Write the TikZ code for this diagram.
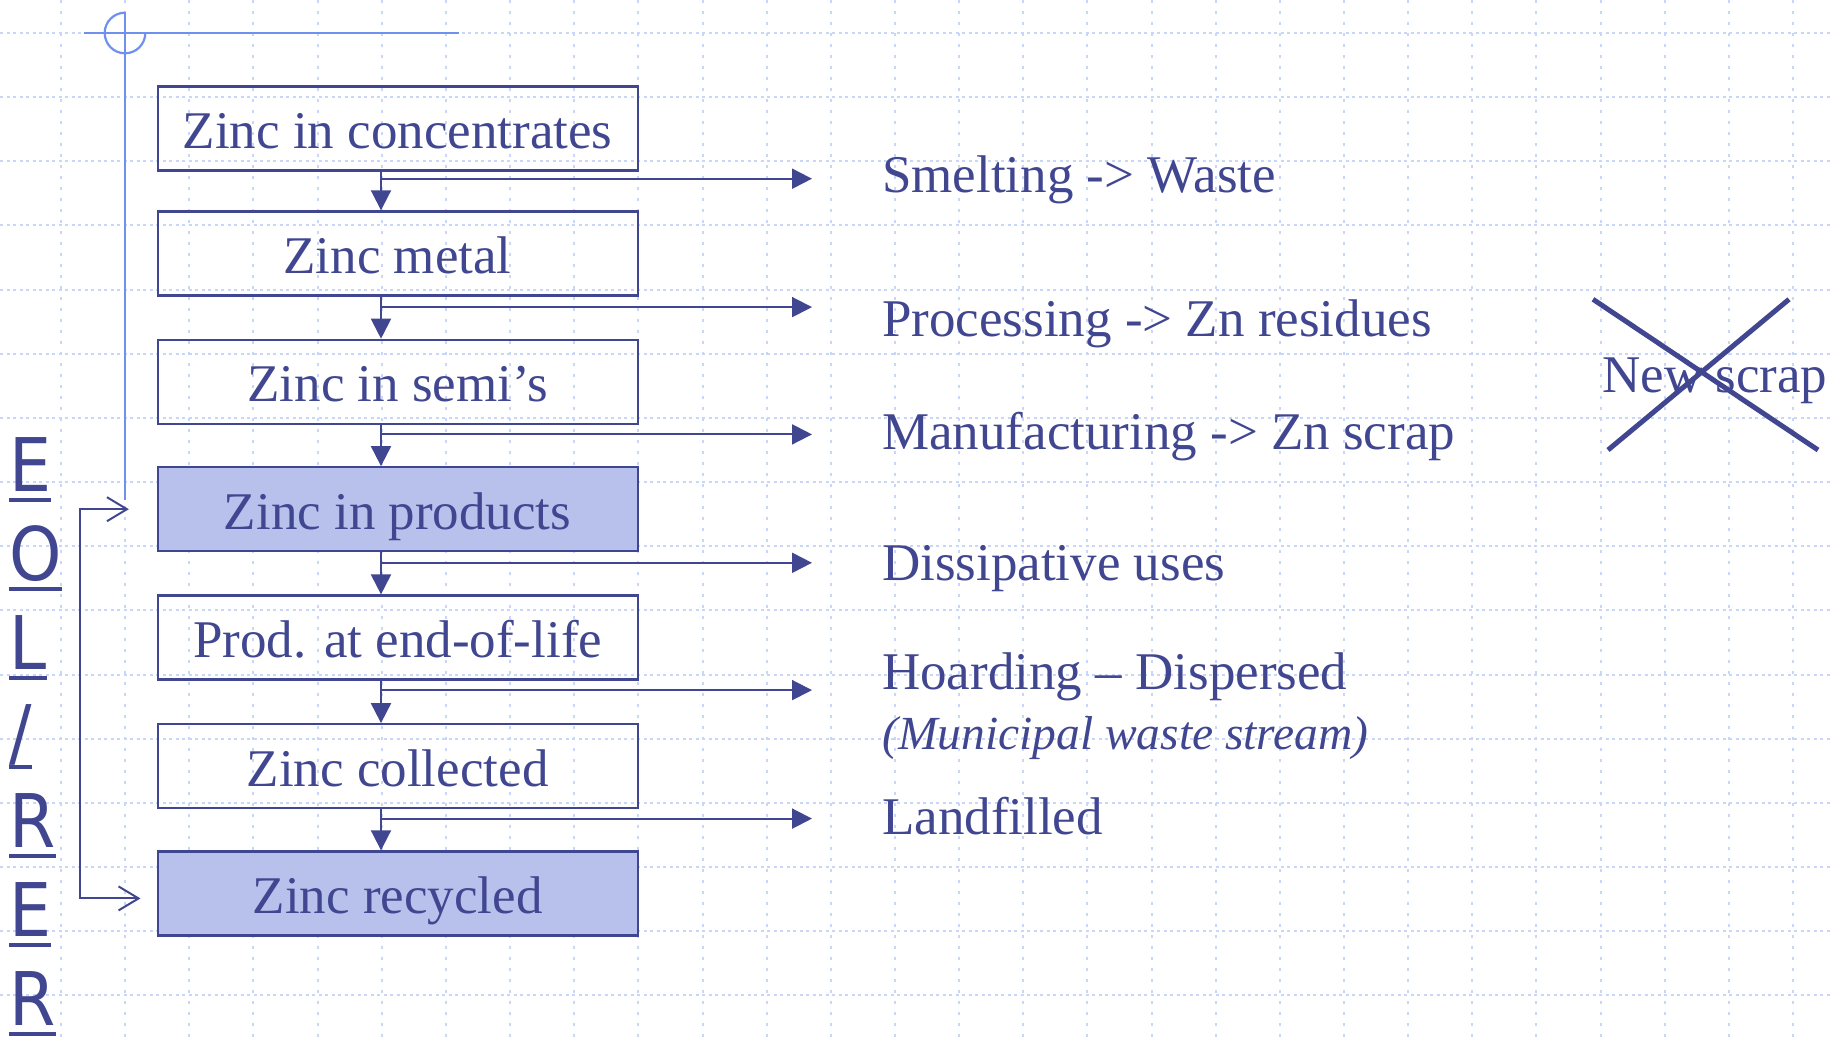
\documentclass[tikz,border=0pt]{standalone}
\usepackage{fontspec}
\setmainfont{Liberation Serif}
\newfontfamily\eolfont[FakeStretch=0.9]{DejaVu Sans}
\usetikzlibrary{arrows.meta}
\definecolor{zdark}{RGB}{64,70,144}
\definecolor{zfill}{RGB}{184,193,236}
\definecolor{zgrid}{RGB}{200,214,249}
\definecolor{zcross}{RGB}{112,144,240}
\begin{document}
\begin{tikzpicture}[x=1pt,y=-1pt,
  stage/.style={draw=zdark, line width=2.2pt, minimum width=480pt, minimum height=84pt,
    inner sep=0pt, text=zdark, font=\fontsize{53}{60}\selectfont, text height=39.7pt, text depth=0pt},
  hot/.style={stage, fill=zfill},
  flowlbl/.style={anchor=base west, inner sep=0pt, text=zdark, font=\fontsize{53}{60}\selectfont},
  eol/.style={anchor=base west, inner sep=0pt, text=zdark, font=\eolfont\fontsize{74}{80}\selectfont},
  uline/.style={draw=zdark, line width=4pt},
  stemarrow/.style={draw=zdark, line width=2pt, -{Triangle[length=20pt,width=20pt]}},
  brancharrow/.style={draw=zdark, line width=2pt, -{Triangle[length=20pt,width=20pt]}},
  eolloop/.style={draw=zdark, line width=2pt, {Straight Barb[length=20pt,width=24pt]}-{Straight Barb[length=20pt,width=24pt]}},
  crosshair/.style={draw=zcross, line width=2.2pt},
  hgrid/.style={draw=zgrid, line width=2pt, dash pattern=on 3pt off 3.5pt},
  vgrid/.style={draw=zgrid, line width=2pt, dash pattern=on 3pt off 8pt},
  xline/.style={draw=zdark, line width=5pt}]
\fill[white] (0,0) rectangle (1831,1039);
\useasboundingbox (0,0) rectangle (1831,1039);
% grid
\foreach \k in {0,...,15} \draw[hgrid] (0,33+64.15*\k) -- (1831,33+64.15*\k);
\foreach \k in {0,...,27} \draw[vgrid] (61+64.15*\k,0) -- (61+64.15*\k,1039);
% crosshair
\draw[crosshair] (84,33) -- (459,33);
\draw[crosshair] (125,12) -- (125,500);
\draw[crosshair] (125,33) ++(90:20.3pt) arc[start angle=90,end angle=360,radius=20.3pt];
% boxes
\node[stage] (b1) at (397.6,128.5) {Zinc in concentrates};
\node[stage] (b2) at (397.6,253.4) {Zinc metal};
\node[stage] (b3) at (397.6,381.8) {Zinc in semi’s};
\node[hot]   (b4) at (397.6,509.2) {Zinc in products};
\node[stage] (b5) at (397.6,637.5) {Prod. at end-of-life};
\node[stage] (b6) at (397.6,766.2) {Zinc collected};
\node[hot]   (b7) at (397.6,893.4) {Zinc recycled};
% stem
\coordinate (stem) at (381,0);
\draw[stemarrow] (b1.south -| stem) -- (b2.north -| stem);
\draw[stemarrow] (b2.south -| stem) -- (b3.north -| stem);
\draw[stemarrow] (b3.south -| stem) -- (b4.north -| stem);
\draw[stemarrow] (b4.south -| stem) -- (b5.north -| stem);
\draw[stemarrow] (b5.south -| stem) -- (b6.north -| stem);
\draw[stemarrow] (b6.south -| stem) -- (b7.north -| stem);
% branches
\coordinate (r1) at (812,178.7);
\coordinate (r2) at (812,307.1);
\coordinate (r3) at (812,434.4);
\coordinate (r4) at (812,562.8);
\coordinate (r5) at (812,690.1);
\coordinate (r6) at (812,818.6);
\foreach \r in {r1,r2,r3,r4,r5,r6} \draw[brancharrow] (stem |- \r) -- (\r);
% right labels
\node[flowlbl] (t1) at (882,192.7) {Smelting -> Waste};
\node[flowlbl] (t2) at (882,336.3) {Processing -> Zn residues};
\node[flowlbl] (t3) at (882,449.6) {Manufacturing -> Zn scrap};
\node[flowlbl] (t4) at (882,580.3) {Dissipative uses};
\node[flowlbl] (t5) at (882,689) {Hoarding – Dispersed};
\node[flowlbl, font=\itshape\fontsize{47.5}{55}\selectfont] (t6) at (882,749.7) {(Municipal waste stream)};
\node[flowlbl] (t7) at (882,834.9) {Landfilled};
% new scrap crossed out
\node[flowlbl] (ns) at (1602,392) {New scrap};
\draw[xline] (1593,299.3) -- (1818,450);
\draw[xline] (1608,450) -- (1789,299.3);
% EOL / RER letters
\foreach \ch [count=\i from 0] in {E,O,L,/,R,E,R} {
  \node[eol] (eol\i) at (9,491.5+89*\i) {\ch};
  \draw[uline] ([yshift=-8pt]eol\i.base west) -- ([yshift=-8pt]eol\i.base east);
}
% loop
\coordinate (la) at ([xshift=-27.6pt]b4.west);
\coordinate (lb) at ([xshift=-16pt,yshift=-5pt]b7.west);
\coordinate (lx) at (80,0);
\draw[eolloop] (la) -- (la -| lx) -- (lb -| lx) -- (lb);
\end{tikzpicture}
\end{document}
